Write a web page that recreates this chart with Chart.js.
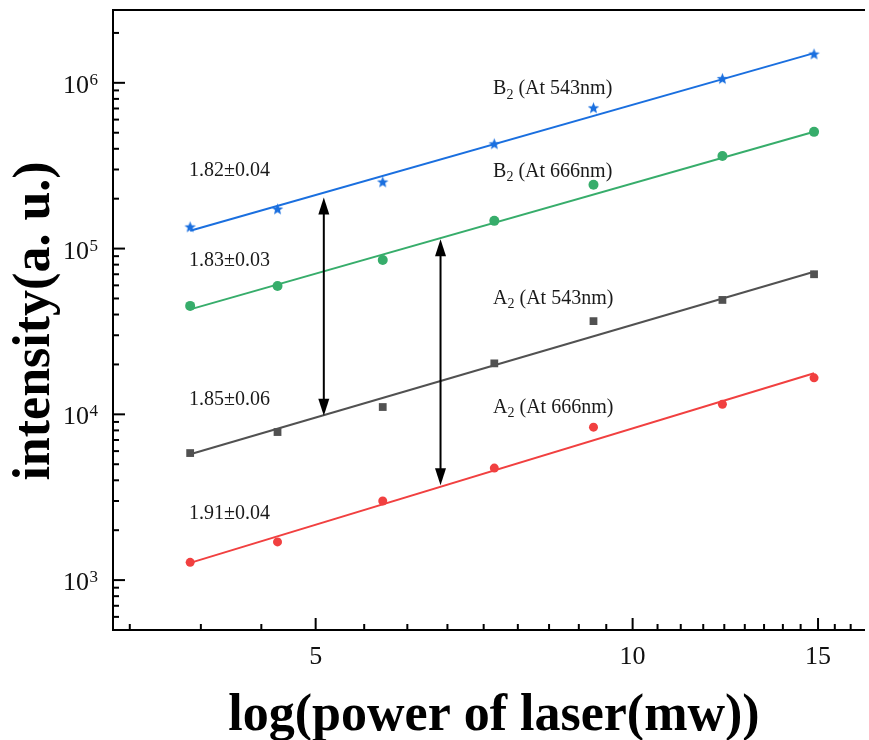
<!DOCTYPE html>
<html>
<head>
<meta charset="utf-8">
<title>Power dependence</title>
<script src="https://cdn.jsdelivr.net/npm/chart.js@4.4.0/dist/chart.umd.min.js"></script>
<style>
    html, body { margin: 0; padding: 0; background: #fff; overflow: hidden; }
    canvas { display: block; }
</style>
</head>
<body>
<canvas id="powerChart" width="869" height="740"></canvas>
<script>
// Laser power (mW) of each measurement
const power = [3.80, 4.60, 5.79, 7.39, 9.18, 12.17, 14.87];

// Intensity (a. u.) per band
const b543 = [1.35e5, 1.73e5, 2.52e5, 4.28e5, 7.06e5, 1.06e6, 1.49e6];
const b666 = [4.51e4, 5.95e4, 8.53e4, 1.47e5, 2.43e5, 3.62e5, 5.06e5];
const a543 = [5.84e3, 7.82e3, 1.107e4, 2.03e4, 3.65e4, 4.90e4, 7.0e4];
const a666 = [1.28e3, 1.70e3, 3.00e3, 4.74e3, 8.37e3, 1.15e4, 1.66e4];

// Fit lines, read at both ends
const fitPower = [3.80, 14.87];
const fitB543 = [1.28e5, 1.51e6];
const fitB666 = [4.30e4, 5.07e5];
const fitA543 = [5.75e3, 7.24e4];
const fitA666 = [1.27e3, 1.77e4];

// Slope labels on the left
const slopeText = ['1.82±0.04', '1.83±0.03', '1.85±0.06', '1.91±0.04'];
const slopeX = 3.79;
const slopeY = [2.94e5, 8.45e4, 1.233e4, 2.53e3];

// Band labels
const bandLetter = ['B', 'B', 'A', 'A'];
const bandWave = [' (At 543nm)', ' (At 666nm)', ' (At 543nm)', ' (At 666nm)'];
const bandX = 7.37;
const bandY = [9.16e5, 2.91e5, 5.01e4, 1.10e4];

// Double arrows
const arrowX = [5.09, 6.57];
const arrowTop = [2.03e5, 1.14e5];
const arrowBottom = [9.8e3, 3.74e3];

// Axis ticks
const xMajor = [5, 10, 15];
const xMinor = [3.33, 3.89, 4.44, 5.56, 6.11, 6.67, 7.22, 7.78, 8.33, 8.89, 9.44,
    10.56, 11.11, 11.67, 12.22, 12.78, 13.33, 13.89, 14.44, 15.56, 16.11];
const yMajorExp = [3, 4, 5, 6];

const COLORS = {
    gray: '#515151',
    red: '#F14040',
    blue: '#1A6FDF',
    green: '#37AD6B'
};

const SERIF = '"Liberation Serif", "Times New Roman", serif';

// Filled five point star used as marker
function makeStar(color) {
    const c = document.createElement('canvas');
    c.width = 13;
    c.height = 13;
    const g = c.getContext('2d');
    g.fillStyle = color;
    g.beginPath();
    for (let i = 0; i < 10; i++) {
        const r = i % 2 === 0 ? 6 : 2.6;
        const a = -Math.PI / 2 + i * Math.PI / 5;
        const px = 6.5 + r * Math.cos(a);
        const py = 6.8 + r * Math.sin(a);
        if (i === 0) g.moveTo(px, py); else g.lineTo(px, py);
    }
    g.closePath();
    g.fill();
    return c;
}

function toPoints(xs, ys) {
    return xs.map((x, i) => ({ x: x, y: ys[i] }));
}

function markerSet(values, color, style, radius) {
    return {
        data: toPoints(power, values),
        showLine: false,
        pointStyle: style,
        pointRadius: radius,
        pointBackgroundColor: color,
        pointBorderColor: color,
        pointBorderWidth: 0
    };
}

function fitSet(values, color) {
    return {
        data: toPoints(fitPower, values),
        showLine: true,
        borderColor: color,
        borderWidth: 2,
        pointRadius: 0
    };
}

function drawArrowHead(ctx, x, tipY, dir) {
    // dir = -1 points up, 1 points down
    ctx.beginPath();
    ctx.moveTo(x, tipY);
    ctx.lineTo(x - 5.5, tipY - dir * 17);
    ctx.lineTo(x + 5.5, tipY - dir * 17);
    ctx.closePath();
    ctx.fill();
}

// Frame, inward ticks, labels and annotations
const originStyle = {
    id: 'originStyle',
    afterDatasetsDraw(chart) {
        const ctx = chart.ctx;
        const xs = chart.scales.x;
        const ys = chart.scales.y;

        ctx.save();
        ctx.strokeStyle = '#000';

        // arrows
        ctx.lineWidth = 2;
        ctx.fillStyle = '#000';
        arrowX.forEach((v, i) => {
            const x = xs.getPixelForValue(v);
            const top = ys.getPixelForValue(arrowTop[i]);
            const bottom = ys.getPixelForValue(arrowBottom[i]);
            ctx.beginPath();
            ctx.moveTo(x, top + 10);
            ctx.lineTo(x, bottom - 10);
            ctx.stroke();
            drawArrowHead(ctx, x, top, -1);
            drawArrowHead(ctx, x, bottom, 1);
        });

        // slope labels
        ctx.fillStyle = '#1a1a1a';
        ctx.textBaseline = 'middle';
        ctx.textAlign = 'left';
        ctx.font = '20px ' + SERIF;
        slopeText.forEach((t, i) => {
            ctx.fillText(t, xs.getPixelForValue(slopeX), ys.getPixelForValue(slopeY[i]));
        });

        // band labels with subscript 2
        bandLetter.forEach((letter, i) => {
            let x = xs.getPixelForValue(bandX);
            const y = ys.getPixelForValue(bandY[i]);
            ctx.font = '20px ' + SERIF;
            ctx.fillText(letter, x, y);
            x += ctx.measureText(letter).width;
            ctx.font = '14px ' + SERIF;
            ctx.fillText('2', x, y + 6);
            x += ctx.measureText('2').width;
            ctx.font = '20px ' + SERIF;
            ctx.fillText(bandWave[i], x, y);
        });
        ctx.restore();
    },
    afterDraw(chart) {
        const ctx = chart.ctx;
        const area = chart.chartArea;
        const xs = chart.scales.x;
        const ys = chart.scales.y;

        ctx.save();
        ctx.strokeStyle = '#000';
        ctx.fillStyle = '#000';
        ctx.lineWidth = 2;

        // frame (right side falls outside the picture)
        ctx.beginPath();
        ctx.moveTo(area.right + 2, area.top);
        ctx.lineTo(area.left, area.top);
        ctx.lineTo(area.left, area.bottom);
        ctx.lineTo(area.right + 2, area.bottom);
        ctx.stroke();

        // x ticks
        xMajor.forEach(v => {
            const x = xs.getPixelForValue(v);
            ctx.beginPath();
            ctx.moveTo(x, area.bottom);
            ctx.lineTo(x, area.bottom - 12);
            ctx.stroke();
        });
        xMinor.forEach(v => {
            const x = xs.getPixelForValue(v);
            ctx.beginPath();
            ctx.moveTo(x, area.bottom);
            ctx.lineTo(x, area.bottom - 6);
            ctx.stroke();
        });

        // y ticks
        const yMinor = [];
        [2, 3, 4, 5, 6].forEach(e => {
            for (let m = 2; m <= 9; m++) yMinor.push(m * Math.pow(10, e));
        });
        yMinor.filter(v => v >= ys.min && v <= ys.max).forEach(v => {
            const y = ys.getPixelForValue(v);
            ctx.beginPath();
            ctx.moveTo(area.left, y);
            ctx.lineTo(area.left + 6, y);
            ctx.stroke();
        });
        yMajorExp.forEach(e => {
            const y = ys.getPixelForValue(Math.pow(10, e));
            ctx.beginPath();
            ctx.moveTo(area.left, y);
            ctx.lineTo(area.left + 12, y);
            ctx.stroke();
        });

        // x tick labels
        ctx.fillStyle = '#111';
        ctx.font = '26px ' + SERIF;
        ctx.textAlign = 'center';
        ctx.textBaseline = 'alphabetic';
        xMajor.forEach(v => {
            ctx.fillText(String(v), xs.getPixelForValue(v), area.bottom + 34);
        });

        // y tick labels as 10 with superscript
        yMajorExp.forEach(e => {
            const y = ys.getPixelForValue(Math.pow(10, e));
            ctx.font = '26px ' + SERIF;
            ctx.textAlign = 'right';
            ctx.fillText('10', 89, y + 10);
            ctx.font = '17px ' + SERIF;
            ctx.textAlign = 'left';
            ctx.fillText(String(e), 89.5, y + 2);
        });

        // axis titles
        ctx.fillStyle = '#000';
        ctx.font = 'bold 52px ' + SERIF;
        ctx.textAlign = 'center';
        ctx.fillText('log(power of laser(mw))', 494, 730);

        ctx.translate(49, 321);
        ctx.rotate(-Math.PI / 2);
        ctx.fillText('intensity(a. u.)', 0, 0);
        ctx.restore();
    }
};

const ctx = document.getElementById('powerChart').getContext('2d');
const powerChart = new Chart(ctx, {
    type: 'scatter',
    data: {
        datasets: [
            fitSet(fitA543, COLORS.gray),
            fitSet(fitA666, COLORS.red),
            fitSet(fitB666, COLORS.green),
            fitSet(fitB543, COLORS.blue),
            markerSet(a543, COLORS.gray, 'rect', 5.5),
            markerSet(a666, COLORS.red, 'circle', 4.5),
            markerSet(b666, COLORS.green, 'circle', 5),
            markerSet(b543, COLORS.blue, makeStar(COLORS.blue), 6)
        ]
    },
    options: {
        responsive: false,
        animation: false,
        layout: {
            padding: { left: 113, top: 10, right: 0, bottom: 110 }
        },
        scales: {
            x: { type: 'logarithmic', min: 3.21, max: 16.55, display: false },
            y: { type: 'logarithmic', min: 500, max: 2.75e6, display: false }
        },
        plugins: {
            legend: { display: false },
            tooltip: { enabled: false }
        }
    },
    plugins: [originStyle]
});
</script>
</body>
</html>
